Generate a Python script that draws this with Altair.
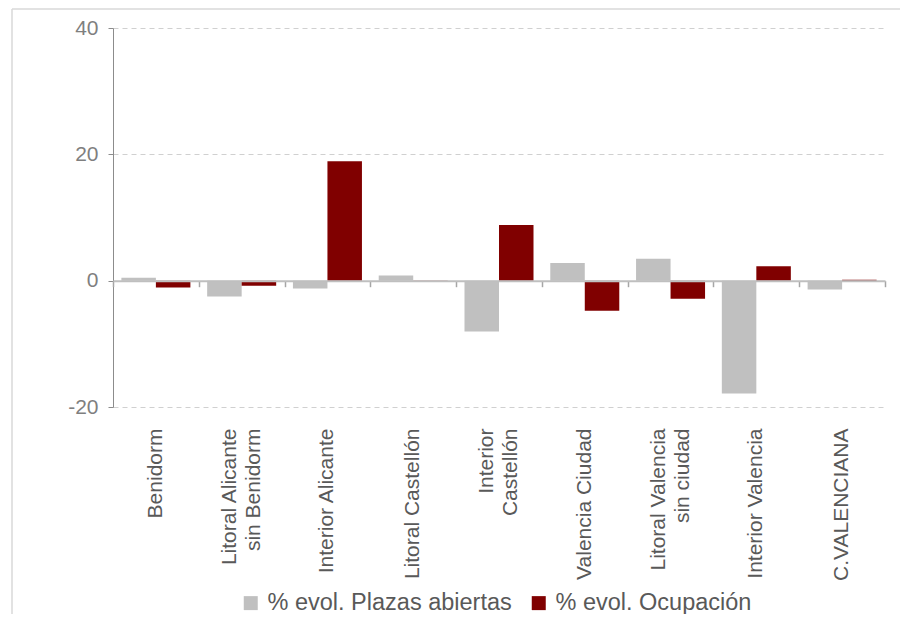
import altair as alt
import pandas as pd

categories = ["Benidorm", "Litoral Alicante\nsin Benidorm", "Interior Alicante",
              "Litoral Castellón", "Interior\nCastellón", "Valencia Ciudad",
              "Litoral Valencia\nsin ciudad", "Interior Valencia", "C.VALENCIANA"]
series = ["% evol. Plazas abiertas", "% evol. Ocupación"]
plazas = [0.45, -2.5, -1.25, 0.8, -8.05, 2.8, 3.45, -17.85, -1.4]
ocupacion = [-1.1, -0.8, 18.9, -0.15, 8.8, -4.75, -2.85, 2.3, 0.15]
colors = ["#c0c0c0", "#800000"]
y_ticks = [-20, 0, 20, 40]

rows = []
for c, p, o in zip(categories, plazas, ocupacion):
    rows.append({"cat": c, "series": series[0], "value": p})
    rows.append({"cat": c, "series": series[1], "value": o})
df = pd.DataFrame(rows)

FONT = "Liberation Sans"
W, H = 772, 379

x_scale = alt.Scale(paddingInner=0, paddingOuter=0)

bars = alt.Chart(df).mark_bar().encode(
    x=alt.X("cat:N", sort=categories, scale=x_scale,
            axis=alt.Axis(title=None, labels=False, grid=False, offset=-126.3,
                          orient="bottom",
                          domain=True, domainColor="#bfbfbf", domainWidth=2,
                          ticks=True, tickBand="extent", tickSize=6,
                          tickColor="#a6a6a6", tickWidth=1.5, zindex=1)),
    xOffset=alt.XOffset("series:N", sort=series,
                        scale=alt.Scale(paddingOuter=0.243, paddingInner=0)),
    y=alt.Y("value:Q", scale=alt.Scale(domain=[-20, 40], nice=False),
            axis=alt.Axis(title=None, values=y_ticks, grid=True, gridDash=[5, 4],
                          gridColor="#d0d0d0", gridWidth=1, domainColor="#8c8c8c",
                          tickColor="#8c8c8c", tickSize=5, labelFontSize=21,
                          labelColor="#7f7f7f", labelPadding=10, labelFont=FONT,
                          labelExpr="datum.value + ''")),
    color=alt.Color("series:N", sort=series,
                    scale=alt.Scale(domain=series, range=colors),
                    legend=alt.Legend(title=None, orient="none", legendX=126, legendY=563,
                                      direction="horizontal", symbolType="square",
                                      symbolSize=196, symbolStrokeWidth=0,
                                      labelFontSize=23.5, labelFont=FONT, labelLimit=0,
                                      labelColor="#595959", columnPadding=15,
                                      labelOffset=5)),
)

labels = alt.Chart(df).mark_point(opacity=0).encode(
    x=alt.X("cat:N", sort=categories,
            axis=alt.Axis(title=None, orient="bottom", domain=False, ticks=False, grid=False,
                          labelAngle=-90, labelFontSize=21, labelFont=FONT,
                          labelColor="#595959", labelPadding=21, labelLimit=0,
                          labelLineHeight=24,
                          labelOffset={"condition": {"test": "indexof(datum.value, '\\n') >= 0",
                                                     "value": -12},
                                       "value": 0},
                          labelExpr="split(datum.label, '\\n')")),
)

frame_df = pd.DataFrame({"k": [0]})
frame_v = alt.Chart(frame_df).mark_rule(color="#d9d9d9", strokeWidth=1.5).encode(
    x=alt.value(-101), y=alt.value(-19), y2=alt.value(620))
frame_h = alt.Chart(frame_df).mark_rule(color="#d9d9d9", strokeWidth=1.5).encode(
    x=alt.value(-101), x2=alt.value(800), y=alt.value(-19))

chart = alt.layer(frame_v, frame_h, bars, labels).resolve_axis(x="independent").properties(
    width=W, height=H,
    autosize=alt.AutoSizeParams(type="none"),
    padding={"left": 105, "top": 20, "right": 15, "bottom": 207},
).configure(font=FONT).configure_view(stroke=None)

chart.save("out.html", embed_options={"renderer": "svg", "actions": False})
